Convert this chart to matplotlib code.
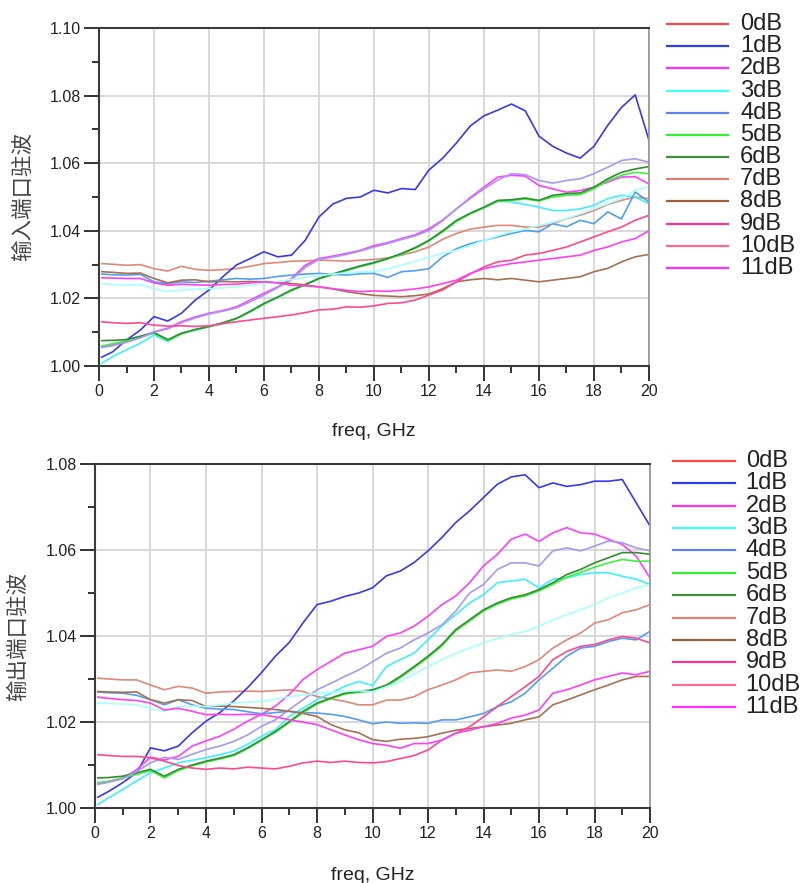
import numpy as np
import matplotlib
matplotlib.use("Agg")
import matplotlib.pyplot as plt
from matplotlib.lines import Line2D
from matplotlib.ticker import MultipleLocator

plt.rcParams['font.family'] = ['Liberation Sans', 'DejaVu Sans']

# frequency grid (GHz)
freq = np.concatenate([[0.1], np.arange(0.5, 20.01, 0.5)])

labels = ['0dB', '1dB', '2dB', '3dB', '4dB', '5dB', '6dB', '7dB', '8dB', '9dB', '10dB', '11dB']
legend_colors = ['#ff4848', '#3040e8', '#ff30ff', '#40ffff', '#6080f0', '#30f030',
                 '#409040', '#e08070', '#a06040', '#ff3090', '#ff6898', '#ff30ff']
line_colors = ['#e08878', '#3838f0', '#ff40ff', '#40f0ff', '#50a0f0', '#40f040',
               '#309030', '#a898f0', '#a87050', '#ff4890', '#a8ffff', '#ff40f0']

# ---- input VSWR (top panel)
in_0dB = [1.0303, 1.0301, 1.0298, 1.0300, 1.0288, 1.0281, 1.0295, 1.0286, 1.0283, 1.0285, 1.0288, 1.0295, 1.0303, 1.0306, 1.0310, 1.0311, 1.0313, 1.0312, 1.0310, 1.0313, 1.0315, 1.0320, 1.0328, 1.0338, 1.0352, 1.0375, 1.0392, 1.0405, 1.0411, 1.0416, 1.0416, 1.0411, 1.0411, 1.0421, 1.0436, 1.0446, 1.0460, 1.0478, 1.0490, 1.0500, 1.0495]
in_1dB = [1.0026, 1.0042, 1.0077, 1.0106, 1.0146, 1.0133, 1.0156, 1.0195, 1.0225, 1.0264, 1.0299, 1.0318, 1.0338, 1.0323, 1.0328, 1.0372, 1.0441, 1.0479, 1.0496, 1.0500, 1.0520, 1.0512, 1.0525, 1.0522, 1.0580, 1.0615, 1.0660, 1.0710, 1.0740, 1.0757, 1.0775, 1.0755, 1.0680, 1.0650, 1.0630, 1.0615, 1.0650, 1.0712, 1.0765, 1.0802, 1.0668]
in_2dB = [1.0057, 1.0062, 1.0072, 1.0085, 1.0101, 1.0112, 1.0131, 1.0145, 1.0156, 1.0164, 1.0175, 1.0195, 1.0215, 1.0234, 1.0259, 1.0298, 1.0318, 1.0325, 1.0333, 1.0342, 1.0356, 1.0365, 1.0377, 1.0388, 1.0406, 1.0432, 1.0465, 1.0498, 1.0529, 1.0559, 1.0564, 1.0562, 1.0534, 1.0524, 1.0514, 1.0519, 1.0529, 1.0544, 1.0559, 1.0560, 1.0539]
in_3dB = [1.0008, 1.0028, 1.0048, 1.0067, 1.0092, 1.0072, 1.0097, 1.0106, 1.0116, 1.0126, 1.0140, 1.0162, 1.0184, 1.0203, 1.0224, 1.0241, 1.0260, 1.0272, 1.0285, 1.0296, 1.0307, 1.0318, 1.0332, 1.0350, 1.0371, 1.0398, 1.0428, 1.0451, 1.0468, 1.0488, 1.0485, 1.0478, 1.0470, 1.0460, 1.0460, 1.0465, 1.0475, 1.0495, 1.0505, 1.0500, 1.0480]
in_4dB = [1.0272, 1.0270, 1.0269, 1.0271, 1.0249, 1.0244, 1.0249, 1.0247, 1.0251, 1.0255, 1.0259, 1.0257, 1.0259, 1.0265, 1.0269, 1.0272, 1.0274, 1.0271, 1.0269, 1.0273, 1.0274, 1.0262, 1.0279, 1.0282, 1.0288, 1.0323, 1.0347, 1.0362, 1.0372, 1.0382, 1.0392, 1.0401, 1.0397, 1.0421, 1.0412, 1.0431, 1.0421, 1.0456, 1.0435, 1.0515, 1.0485]
in_5dB = [1.0059, 1.0066, 1.0075, 1.0086, 1.0097, 1.0075, 1.0095, 1.0107, 1.0116, 1.0127, 1.0140, 1.0160, 1.0183, 1.0203, 1.0223, 1.0240, 1.0258, 1.0270, 1.0282, 1.0294, 1.0304, 1.0317, 1.0331, 1.0348, 1.0370, 1.0397, 1.0428, 1.0450, 1.0468, 1.0487, 1.0490, 1.0494, 1.0488, 1.0500, 1.0505, 1.0507, 1.0524, 1.0549, 1.0564, 1.0573, 1.0569]
in_6dB = [1.0075, 1.0076, 1.0078, 1.0088, 1.0099, 1.0078, 1.0097, 1.0108, 1.0117, 1.0128, 1.0141, 1.0162, 1.0185, 1.0204, 1.0225, 1.0241, 1.0259, 1.0272, 1.0284, 1.0296, 1.0306, 1.0318, 1.0333, 1.0350, 1.0372, 1.0400, 1.0431, 1.0452, 1.0470, 1.0490, 1.0492, 1.0497, 1.0490, 1.0505, 1.0510, 1.0512, 1.0529, 1.0554, 1.0573, 1.0583, 1.0590]
in_7dB = [1.0055, 1.0060, 1.0070, 1.0083, 1.0100, 1.0110, 1.0128, 1.0142, 1.0154, 1.0162, 1.0172, 1.0190, 1.0210, 1.0232, 1.0255, 1.0292, 1.0315, 1.0322, 1.0330, 1.0340, 1.0352, 1.0362, 1.0374, 1.0385, 1.0401, 1.0430, 1.0465, 1.0495, 1.0524, 1.0550, 1.0569, 1.0566, 1.0549, 1.0541, 1.0549, 1.0554, 1.0569, 1.0588, 1.0608, 1.0613, 1.0603]
in_8dB = [1.0279, 1.0277, 1.0274, 1.0275, 1.0259, 1.0246, 1.0254, 1.0255, 1.0249, 1.0250, 1.0249, 1.0250, 1.0249, 1.0247, 1.0244, 1.0240, 1.0234, 1.0228, 1.0220, 1.0214, 1.0209, 1.0207, 1.0205, 1.0208, 1.0213, 1.0229, 1.0249, 1.0255, 1.0259, 1.0255, 1.0259, 1.0254, 1.0249, 1.0254, 1.0259, 1.0264, 1.0279, 1.0289, 1.0308, 1.0323, 1.0330]
in_9dB = [1.0131, 1.0128, 1.0126, 1.0128, 1.0121, 1.0118, 1.0119, 1.0117, 1.0119, 1.0125, 1.0131, 1.0136, 1.0141, 1.0146, 1.0151, 1.0158, 1.0166, 1.0168, 1.0175, 1.0174, 1.0178, 1.0185, 1.0187, 1.0195, 1.0210, 1.0225, 1.0249, 1.0272, 1.0293, 1.0308, 1.0313, 1.0328, 1.0333, 1.0342, 1.0352, 1.0367, 1.0382, 1.0397, 1.0411, 1.0431, 1.0446]
in_10dB = [1.0244, 1.0241, 1.0239, 1.0241, 1.0228, 1.0220, 1.0225, 1.0227, 1.0229, 1.0231, 1.0234, 1.0239, 1.0244, 1.0250, 1.0256, 1.0262, 1.0268, 1.0272, 1.0275, 1.0278, 1.0280, 1.0288, 1.0298, 1.0310, 1.0322, 1.0333, 1.0342, 1.0356, 1.0372, 1.0385, 1.0397, 1.0405, 1.0416, 1.0425, 1.0436, 1.0450, 1.0465, 1.0480, 1.0495, 1.0520, 1.0530]
in_11dB = [1.0261, 1.0260, 1.0259, 1.0259, 1.0246, 1.0239, 1.0242, 1.0240, 1.0239, 1.0241, 1.0242, 1.0246, 1.0249, 1.0246, 1.0239, 1.0237, 1.0234, 1.0229, 1.0224, 1.0220, 1.0222, 1.0221, 1.0224, 1.0228, 1.0234, 1.0244, 1.0254, 1.0274, 1.0288, 1.0296, 1.0303, 1.0308, 1.0313, 1.0318, 1.0323, 1.0328, 1.0342, 1.0352, 1.0367, 1.0377, 1.0400]

# ---- output VSWR (bottom panel)
out_0dB = [1.0302, 1.0300, 1.0298, 1.0298, 1.0286, 1.0275, 1.0283, 1.0279, 1.0267, 1.0270, 1.0271, 1.0272, 1.0271, 1.0273, 1.0275, 1.0271, 1.0259, 1.0254, 1.0248, 1.0240, 1.0240, 1.0251, 1.0251, 1.0259, 1.0275, 1.0286, 1.0298, 1.0314, 1.0318, 1.0321, 1.0318, 1.0329, 1.0345, 1.0372, 1.0391, 1.0407, 1.0430, 1.0438, 1.0454, 1.0461, 1.0473]
out_1dB = [1.0025, 1.0039, 1.0059, 1.0082, 1.0140, 1.0133, 1.0144, 1.0175, 1.0202, 1.0222, 1.0249, 1.0280, 1.0315, 1.0353, 1.0385, 1.0431, 1.0473, 1.0481, 1.0492, 1.0500, 1.0512, 1.0540, 1.0551, 1.0571, 1.0598, 1.0629, 1.0664, 1.0691, 1.0722, 1.0753, 1.0770, 1.0775, 1.0745, 1.0756, 1.0748, 1.0752, 1.0760, 1.0760, 1.0764, 1.0710, 1.0656]
out_2dB = [1.0057, 1.0062, 1.0069, 1.0089, 1.0118, 1.0112, 1.0120, 1.0144, 1.0156, 1.0167, 1.0183, 1.0202, 1.0218, 1.0237, 1.0264, 1.0299, 1.0322, 1.0341, 1.0360, 1.0368, 1.0376, 1.0399, 1.0407, 1.0423, 1.0446, 1.0473, 1.0493, 1.0524, 1.0563, 1.0590, 1.0625, 1.0637, 1.0620, 1.0640, 1.0652, 1.0640, 1.0637, 1.0625, 1.0613, 1.0586, 1.0535]
out_3dB = [1.0008, 1.0024, 1.0043, 1.0063, 1.0082, 1.0093, 1.0105, 1.0111, 1.0117, 1.0124, 1.0132, 1.0148, 1.0167, 1.0182, 1.0213, 1.0232, 1.0252, 1.0267, 1.0283, 1.0294, 1.0285, 1.0329, 1.0345, 1.0360, 1.0391, 1.0423, 1.0450, 1.0477, 1.0496, 1.0524, 1.0528, 1.0532, 1.0512, 1.0532, 1.0535, 1.0543, 1.0547, 1.0547, 1.0539, 1.0532, 1.0520]
out_4dB = [1.0270, 1.0268, 1.0267, 1.0262, 1.0252, 1.0240, 1.0252, 1.0240, 1.0232, 1.0230, 1.0229, 1.0224, 1.0219, 1.0222, 1.0225, 1.0222, 1.0221, 1.0218, 1.0213, 1.0205, 1.0196, 1.0200, 1.0197, 1.0198, 1.0197, 1.0205, 1.0205, 1.0212, 1.0220, 1.0236, 1.0247, 1.0267, 1.0298, 1.0325, 1.0353, 1.0372, 1.0376, 1.0387, 1.0395, 1.0391, 1.0411]
out_5dB = [1.0059, 1.0062, 1.0070, 1.0078, 1.0087, 1.0070, 1.0087, 1.0098, 1.0107, 1.0114, 1.0122, 1.0138, 1.0157, 1.0176, 1.0199, 1.0222, 1.0242, 1.0254, 1.0265, 1.0269, 1.0272, 1.0283, 1.0303, 1.0326, 1.0350, 1.0377, 1.0412, 1.0435, 1.0458, 1.0474, 1.0486, 1.0493, 1.0505, 1.0520, 1.0537, 1.0548, 1.0560, 1.0570, 1.0578, 1.0574, 1.0574]
out_6dB = [1.0070, 1.0071, 1.0074, 1.0082, 1.0090, 1.0074, 1.0090, 1.0100, 1.0109, 1.0116, 1.0124, 1.0140, 1.0159, 1.0178, 1.0201, 1.0225, 1.0244, 1.0256, 1.0267, 1.0271, 1.0275, 1.0286, 1.0306, 1.0329, 1.0353, 1.0380, 1.0415, 1.0438, 1.0461, 1.0477, 1.0489, 1.0496, 1.0508, 1.0524, 1.0543, 1.0555, 1.0570, 1.0582, 1.0594, 1.0594, 1.0590]
out_7dB = [1.0055, 1.0060, 1.0068, 1.0085, 1.0105, 1.0118, 1.0113, 1.0125, 1.0136, 1.0144, 1.0155, 1.0170, 1.0190, 1.0205, 1.0229, 1.0252, 1.0275, 1.0290, 1.0306, 1.0321, 1.0340, 1.0360, 1.0372, 1.0391, 1.0407, 1.0426, 1.0458, 1.0500, 1.0520, 1.0555, 1.0570, 1.0570, 1.0563, 1.0598, 1.0605, 1.0598, 1.0609, 1.0621, 1.0617, 1.0605, 1.0598]
out_8dB = [1.0271, 1.0270, 1.0269, 1.0270, 1.0252, 1.0244, 1.0252, 1.0250, 1.0236, 1.0237, 1.0236, 1.0234, 1.0232, 1.0229, 1.0225, 1.0220, 1.0213, 1.0194, 1.0182, 1.0175, 1.0159, 1.0155, 1.0160, 1.0162, 1.0166, 1.0174, 1.0181, 1.0185, 1.0189, 1.0193, 1.0197, 1.0205, 1.0212, 1.0240, 1.0251, 1.0263, 1.0275, 1.0286, 1.0298, 1.0306, 1.0306]
out_9dB = [1.0124, 1.0122, 1.0120, 1.0120, 1.0117, 1.0109, 1.0099, 1.0093, 1.0090, 1.0093, 1.0091, 1.0095, 1.0093, 1.0091, 1.0097, 1.0105, 1.0109, 1.0106, 1.0109, 1.0106, 1.0105, 1.0108, 1.0115, 1.0122, 1.0135, 1.0158, 1.0174, 1.0189, 1.0212, 1.0236, 1.0259, 1.0282, 1.0306, 1.0345, 1.0364, 1.0376, 1.0380, 1.0391, 1.0399, 1.0395, 1.0384]
out_10dB = [1.0244, 1.0243, 1.0242, 1.0240, 1.0232, 1.0225, 1.0236, 1.0237, 1.0236, 1.0240, 1.0244, 1.0246, 1.0248, 1.0253, 1.0259, 1.0263, 1.0267, 1.0269, 1.0271, 1.0273, 1.0270, 1.0282, 1.0294, 1.0312, 1.0329, 1.0345, 1.0360, 1.0372, 1.0384, 1.0394, 1.0403, 1.0411, 1.0423, 1.0437, 1.0450, 1.0461, 1.0473, 1.0489, 1.0500, 1.0512, 1.0520]
out_11dB = [1.0258, 1.0255, 1.0252, 1.0250, 1.0244, 1.0228, 1.0232, 1.0225, 1.0217, 1.0218, 1.0217, 1.0218, 1.0217, 1.0212, 1.0205, 1.0200, 1.0194, 1.0182, 1.0170, 1.0159, 1.0150, 1.0146, 1.0139, 1.0150, 1.0150, 1.0158, 1.0174, 1.0181, 1.0189, 1.0197, 1.0209, 1.0216, 1.0228, 1.0267, 1.0275, 1.0286, 1.0298, 1.0306, 1.0314, 1.0310, 1.0318]

in_series = [in_0dB, in_1dB, in_2dB, in_3dB, in_4dB, in_5dB, in_6dB, in_7dB, in_8dB, in_9dB, in_10dB, in_11dB]
out_series = [out_0dB, out_1dB, out_2dB, out_3dB, out_4dB, out_5dB, out_6dB, out_7dB, out_8dB, out_9dB, out_10dB, out_11dB]

fig = plt.figure(figsize=(8.01, 8.83), dpi=100)
ax1 = fig.add_axes([0.1236, 0.5855, 0.6866, 0.3828])
ax2 = fig.add_axes([0.1186, 0.0849, 0.6929, 0.3896])


def style_axes(ax, ymax, ylabel, label_x):
    ax.set_xlim(0, 20)
    ax.set_ylim(1.00, ymax)
    ax.xaxis.set_major_locator(MultipleLocator(2))
    ax.xaxis.set_minor_locator(MultipleLocator(1))
    ax.yaxis.set_major_locator(MultipleLocator(0.02))
    ax.yaxis.set_minor_locator(MultipleLocator(0.01))
    ax.yaxis.set_major_formatter(plt.FormatStrFormatter('%.2f'))
    ax.grid(True, which='major', color='#d6d6d6', lw=1.3)
    ax.set_axisbelow(True)
    ax.tick_params(which='major', direction='out', length=11, width=1.4,
                   color='#333333', labelsize=11.5, labelcolor='#222222', pad=2)
    ax.tick_params(which='minor', direction='out', length=5, width=1.4, color='#333333')
    for s in ['left', 'bottom', 'top']:
        ax.spines[s].set_color('#3a3a3a')
        ax.spines[s].set_linewidth(1.5)
    ax.spines['right'].set_color('#999999')
    ax.spines['right'].set_linewidth(1.3)
    ax.set_xlabel('freq, GHz', fontsize=14, color='#222222')
    ax.xaxis.set_label_coords(0.5, -0.17)
    ax.set_ylabel(ylabel, fontsize=15.5, color='#444444',
                  family=['Noto Sans CJK SC', 'DejaVu Sans'])
    ax.yaxis.set_label_coords(label_x, 0.5)


for ax, series in [(ax1, in_series), (ax2, out_series)]:
    for vals, col in zip(series, line_colors):
        ax.plot(freq, vals, color=col, lw=1.2)

style_axes(ax1, 1.10, '输入端口驻波', -0.118)
style_axes(ax2, 1.08, '输出端口驻波', -0.118)


def draw_legend(x0, x1, xt, ytop, dy):
    for i, (lab, col) in enumerate(zip(labels, legend_colors)):
        y = ytop - i * dy
        fig.add_artist(Line2D([x0, x1], [y, y], transform=fig.transFigure, color=col, lw=1.6))
        fig.text(xt, y, lab, fontsize=17, va='center', ha='left', color='#222222')


draw_legend(0.8327, 0.9089, 0.924, 0.9728, 0.02512)
draw_legend(0.8402, 0.9176, 0.931, 0.4779, 0.02532)

fig.savefig('out.png', dpi=100)
